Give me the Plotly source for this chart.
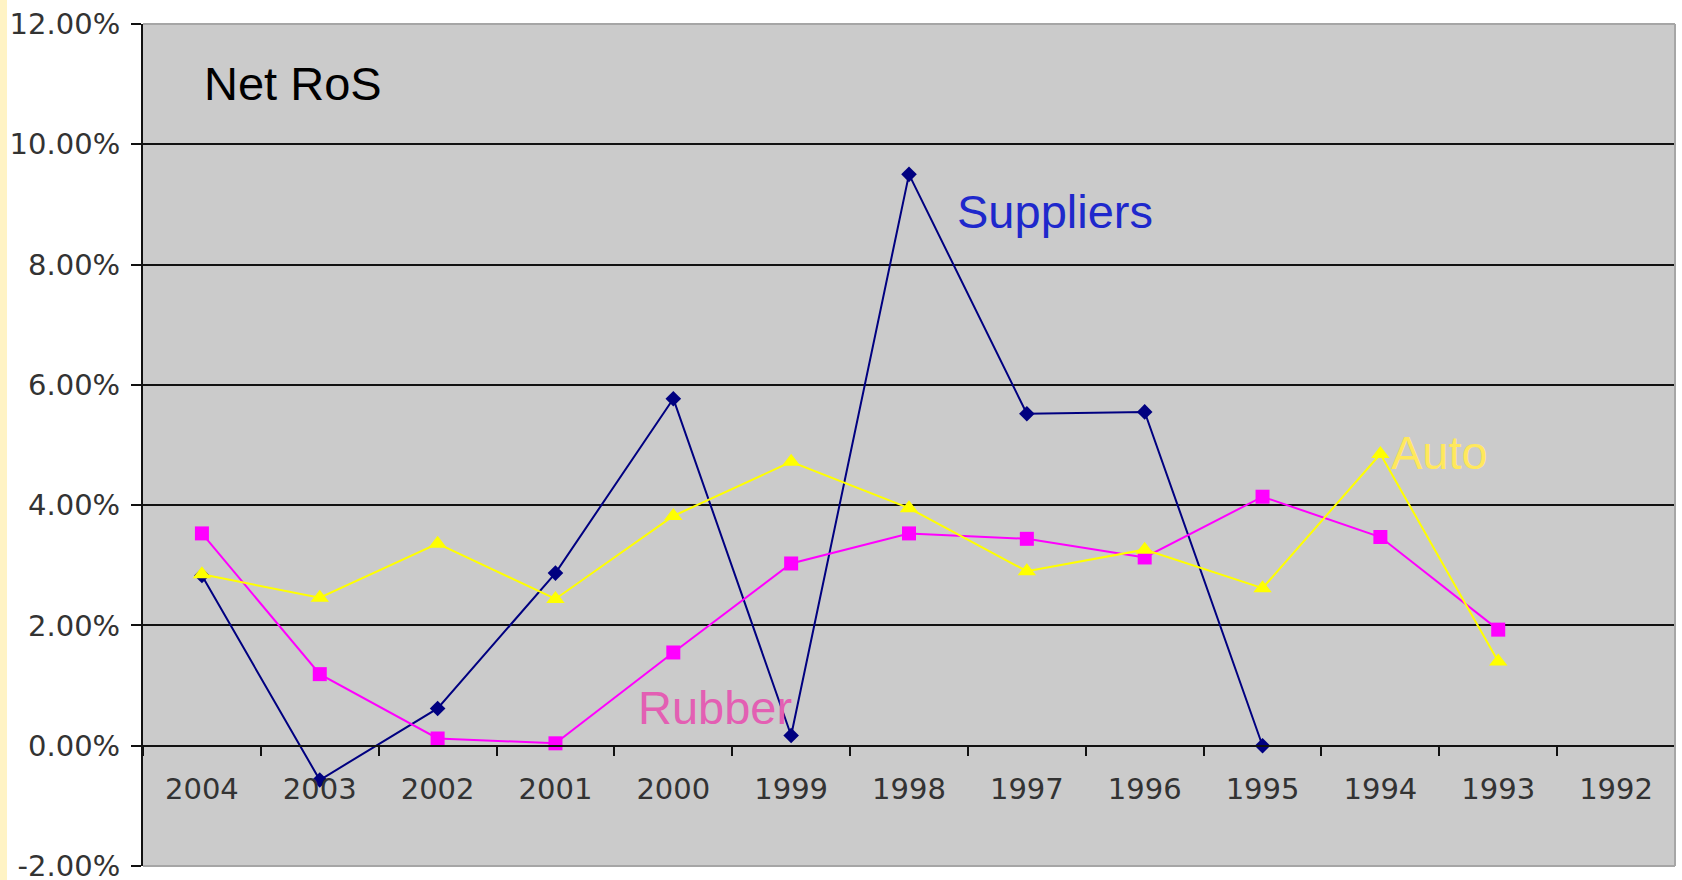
import plotly.graph_objects as go

years = ["2004", "2003", "2002", "2001", "2000", "1999", "1998", "1997", "1996", "1995", "1994", "1993", "1992"]
suppliers = [2.83, -0.57, 0.62, 2.87, 5.77, 0.17, 9.50, 5.52, 5.55, 0.00, None, None, None]
rubber = [3.53, 1.19, 0.12, 0.04, 1.55, 3.03, 3.53, 3.44, 3.13, 4.14, 3.47, 1.93, None]
auto = [2.85, 2.46, 3.36, 2.44, 3.82, 4.72, 3.95, 2.90, 3.26, 2.62, 4.85, 1.40, None]
y_ticks = [-2, 0, 2, 4, 6, 8, 10, 12]

W, H = 1682, 880
L, R, T, B = 143, 1675, 24, 866
YMIN, YMAX = -2, 12


def px(x):
    return (x - L) / (R - L)


def py(y):
    return (B - y) / (B - T)


fig = go.Figure()
fig.add_trace(go.Scatter(x=years, y=suppliers, mode="lines+markers",
                         line=dict(color="#000080", width=2),
                         marker=dict(symbol="diamond", size=12, color="#000080"),
                         name="Suppliers"))
fig.add_trace(go.Scatter(x=years, y=rubber, mode="lines+markers",
                         line=dict(color="#FF00FF", width=2),
                         marker=dict(symbol="square", size=14, color="#FF00FF"),
                         name="Rubber"))
fig.add_trace(go.Scatter(x=years, y=auto, mode="lines+markers",
                         line=dict(color="#FFFF00", width=2),
                         marker=dict(symbol="triangle-up", size=16, color="#FFFF00"),
                         name="Auto"))
# helper trace that carries the category axis drawn at the zero line
fig.add_trace(go.Scatter(x=years, y=[None] * len(years), xaxis="x2", yaxis="y",
                         mode="markers", showlegend=False, hoverinfo="skip"))

tick_font = dict(family="DejaVu Sans", size=29, color="#333333")

fig.update_layout(
    width=W, height=H,
    margin=dict(l=L, r=W - R, t=T, b=H - B, pad=0, autoexpand=False),
    paper_bgcolor="white",
    plot_bgcolor="#CBCBCB",
    showlegend=False,
    xaxis=dict(
        type="category",
        range=[-0.5, len(years) - 0.5],
        showline=False, ticks="", showticklabels=False, showgrid=False,
        automargin=False,
    ),
    xaxis2=dict(
        type="category",
        overlaying="x",
        range=[-0.5, len(years) - 0.5],
        anchor="free",
        position=(0 - YMIN) / (YMAX - YMIN),
        side="bottom",
        showline=True, linecolor="#111111", linewidth=2,
        ticks="outside", ticklen=9, tickwidth=2, tickcolor="#111111",
        tickson="boundaries",
        showgrid=False,
        tickfont=tick_font,
        ticklabelstandoff=17,
        automargin=False,
    ),
    yaxis=dict(
        range=[YMIN, YMAX],
        tickvals=y_ticks,
        ticktext=[f"{v:.2f}%" for v in y_ticks],
        showline=True, linecolor="#111111", linewidth=2,
        ticks="outside", ticklen=10, tickwidth=2, tickcolor="#111111",
        showgrid=True, gridcolor="#111111", gridwidth=1.6,
        zeroline=False,
        tickfont=tick_font,
        ticklabelstandoff=5,
        ticklabeloverflow="allow",
        automargin=False,
    ),
    shapes=[
        dict(type="rect", xref="paper", yref="paper",
             x0=-L / (R - L), x1=-(L - 7) / (R - L),
             y0=-(H - B) / (B - T), y1=1 + T / (B - T),
             fillcolor="#FFF3C4", line=dict(width=0), layer="below"),
        dict(type="line", xref="paper", yref="paper", x0=0, x1=1, y0=1, y1=1,
             line=dict(color="#A6A6A6", width=2), layer="above"),
        dict(type="line", xref="paper", yref="paper", x0=0, x1=1, y0=0, y1=0,
             line=dict(color="#A6A6A6", width=2), layer="above"),
        dict(type="line", xref="paper", yref="paper", x0=1, x1=1, y0=0, y1=1,
             line=dict(color="#A6A6A6", width=2), layer="above"),
    ],
    annotations=[
        dict(text="Net RoS", xref="paper", yref="paper", x=px(202), y=py(83),
             xanchor="left", yanchor="middle", showarrow=False,
             font=dict(family="Liberation Sans", size=47, color="#000000")),
        dict(text="Suppliers", xref="paper", yref="paper", x=px(955), y=py(212),
             xanchor="left", yanchor="middle", showarrow=False,
             font=dict(family="Liberation Sans", size=47, color="#1E28CC")),
        dict(text="Rubber", xref="paper", yref="paper", x=px(636), y=py(707),
             xanchor="left", yanchor="middle", showarrow=False,
             font=dict(family="Liberation Sans", size=47, color="#E35FB3")),
        dict(text="Auto", xref="paper", yref="paper", x=px(1389), y=py(452),
             xanchor="left", yanchor="middle", showarrow=False,
             font=dict(family="Liberation Sans", size=47, color="#FFE85C")),
    ],
)

fig.write_html("out.html")
